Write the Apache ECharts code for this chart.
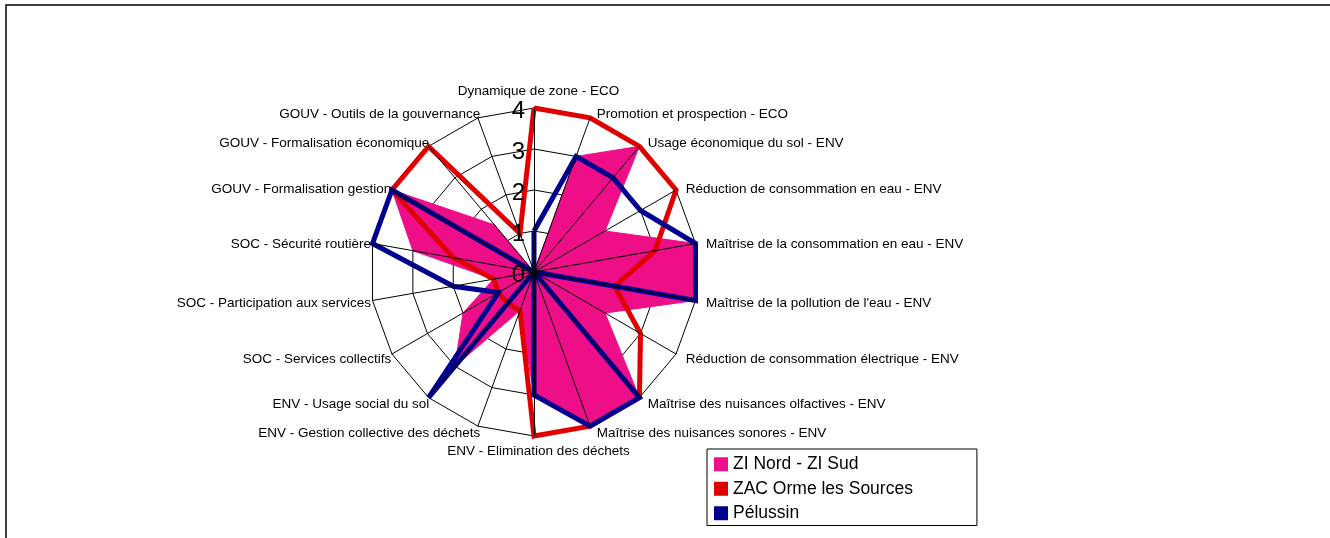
<!DOCTYPE html>
<html>
<head>
<meta charset="utf-8">
<script src="https://cdn.jsdelivr.net/npm/echarts@6/dist/echarts.min.js"></script>
<style>
  html, body { margin: 0; padding: 0; background: #fff; }
  #chart { width: 1330px; height: 538px; }
</style>
</head>
<body>
<div id="chart"></div>
<script>
// criteria, clockwise from the top
const criteria = [
  'Dynamique de zone - ECO',
  'Promotion et prospection - ECO',
  'Usage économique du sol - ENV',
  'Réduction de consommation en eau - ENV',
  'Maîtrise de la consommation en eau - ENV',
  "Maîtrise de la pollution de l'eau - ENV",
  'Réduction de consommation électrique - ENV',
  'Maîtrise des nuisances olfactives - ENV',
  'Maîtrise des nuisances sonores - ENV',
  'ENV - Elimination des déchets',
  'ENV - Gestion collective des déchets',
  'ENV - Usage social du sol',
  'SOC - Services collectifs',
  'SOC - Participation aux services',
  'SOC - Sécurité routière',
  'GOUV - Formalisation gestion',
  'GOUV - Formalisation économique',
  'GOUV - Outils de la gouvernance'
];

const ziNordSud = [0, 3, 4, 2, 4, 4, 2, 4, 4, 3, 1, 3, 2, 1, 3, 4, 1.5, 0];
const zacOrme   = [4, 4, 4, 4, 3, 2, 3, 4, 4, 4, 1, 1, 1, 1, 2, 4, 4, 1];
const pelussin  = [1, 3, 3, 3, 4, 4, 0, 4, 4, 3, 0, 4, 1, 2, 4, 4, 0, 0];

const seriesNames = ['ZI Nord - ZI Sud', 'ZAC Orme les Sources', 'Pélussin'];
const seriesColors = ['#EE0E88', '#E00000', '#000090'];
const axisMin = 0;
const axisMax = 4;
const axisStep = 1;

// echarts lays indicators out counter-clockwise, so flip the order (keep the first on top)
const order = [0].concat(criteria.map((_, i) => i).slice(1).reverse());
const pick = arr => order.map(i => arr[i]);

const FONT = 'Liberation Sans, Arial, sans-serif';
const CENTER = [534, 272];
const RADIUS = 164;

const chart = echarts.init(document.getElementById('chart'));

const radarBase = {
  center: CENTER,
  radius: RADIUS,
  startAngle: 90,
  splitNumber: (axisMax - axisMin) / axisStep,
  shape: 'polygon'
};
const bareIndicators = criteria.map(() => ({ name: '', min: axisMin, max: axisMax }));

chart.setOption({
  animation: false,
  backgroundColor: '#fff',
  graphic: [{
    type: 'rect',
    silent: true,
    shape: { x: 6, y: 5, width: 1340, height: 545 },
    style: { fill: 'none', stroke: '#000', lineWidth: 1.5 }
  }],
  legend: {
    data: seriesNames,
    orient: 'vertical',
    left: 707,
    top: 449,
    icon: 'rect',
    itemWidth: 14,
    itemHeight: 14,
    itemGap: 4,
    padding: [5, 64, 2, 7],
    borderColor: '#000',
    borderWidth: 1,
    backgroundColor: '#fff',
    textStyle: { color: '#000', fontSize: 17.5, lineHeight: 20.5, fontFamily: FONT }
  },
  // polar only carries the 0..4 scale labels along the top spoke
  polar: { center: CENTER, radius: RADIUS },
  angleAxis: { show: false, startAngle: 90, min: 0, max: 360 },
  radiusAxis: {
    z: 20,
    min: axisMin, max: axisMax, interval: axisStep,
    axisLine: { show: false },
    axisTick: { show: false },
    splitLine: { show: false },
    axisLabel: {
      color: '#000', fontSize: 24, fontFamily: FONT, margin: 9,
      verticalAlign: 'top', lineHeight: 6,
      showMinLabel: true, showMaxLabel: true
    }
  },
  radar: [
    // rings, under the series
    Object.assign({}, radarBase, {
      indicator: bareIndicators,
      axisName: { show: false },
      axisLine: { show: false },
      axisTick: { show: false },
      axisLabel: { show: false },
      splitLine: { lineStyle: { color: '#000', width: 1 } },
      splitArea: { show: false }
    }),
    // spokes drawn above the series
    Object.assign({}, radarBase, {
      z: 10,
      indicator: bareIndicators,
      axisName: { show: false },
      axisLine: { show: true, lineStyle: { color: '#000', width: 1 } },
      splitLine: { show: false },
      splitArea: { show: false },
      axisLabel: { show: false }
    }),
    // criterion names, nudged a little right/down like the original layout;
    // the invisible labels on the top spoke keep its name clear of the scale numbers
    Object.assign({}, radarBase, {
      center: [CENTER[0] + 4.5, CENTER[1] + 2],
      indicator: pick(criteria).map((name, i) => ({
        name: name, min: axisMin, max: axisMax,
        axisLabel: { show: i === 0 }
      })),
      nameGap: 6,
      axisName: { color: '#000', fontSize: 13.5, fontFamily: FONT },
      axisLine: { show: false },
      axisTick: { show: false },
      axisLabel: { show: false, color: 'rgba(0,0,0,0)', fontSize: 24, fontFamily: FONT, margin: 4 },
      splitLine: { show: false },
      splitArea: { show: false }
    })
  ],
  series: [
    {
      name: seriesNames[0],
      type: 'radar',
      radarIndex: 0,
      symbol: 'none',
      itemStyle: { color: seriesColors[0] },
      lineStyle: { color: seriesColors[0], width: 1 },
      areaStyle: { color: seriesColors[0], opacity: 1 },
      data: [{ name: seriesNames[0], value: pick(ziNordSud) }]
    },
    {
      name: seriesNames[1],
      type: 'radar',
      radarIndex: 0,
      symbol: 'none',
      itemStyle: { color: seriesColors[1] },
      lineStyle: { color: seriesColors[1], width: 5, join: 'miter' },
      data: [{ name: seriesNames[1], value: pick(zacOrme) }]
    },
    {
      name: seriesNames[2],
      type: 'radar',
      radarIndex: 0,
      symbol: 'none',
      itemStyle: { color: seriesColors[2] },
      lineStyle: { color: seriesColors[2], width: 5, join: 'miter' },
      data: [{ name: seriesNames[2], value: pick(pelussin) }]
    }
  ]
});
</script>
</body>
</html>
